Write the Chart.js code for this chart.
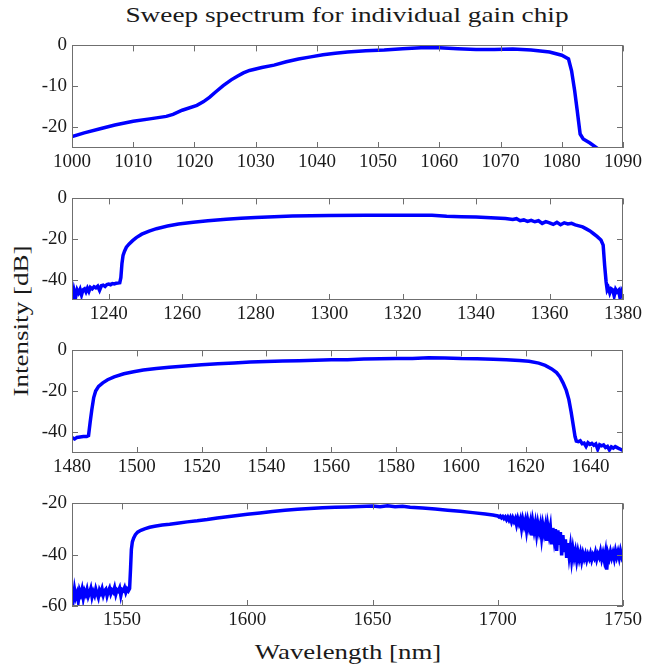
<!DOCTYPE html>
<html>
<head>
<meta charset="utf-8">
<script src="https://cdn.jsdelivr.net/npm/chart.js@4/dist/chart.umd.min.js"></script>
<style>
  body { margin: 0; background: #fff; width: 645px; height: 670px; position: relative; overflow: hidden; }
  canvas { position: absolute; left: 0; }
  .lbl { position: absolute; font-family: "Liberation Serif", serif; font-size: 22px; color: #1a1a1a; white-space: nowrap; line-height: 1; }
</style>
</head>
<body>
<div class="lbl" id="title" style="left:347px; top:15px; transform: translate(-50%,-50%) scaleX(1.24);">Sweep spectrum for individual gain chip</div>
<div class="lbl" id="ylabel" style="left:21px; top:321px; transform: translate(-50%,-50%) rotate(-90deg) scaleX(1.23);">Intensity [dB]</div>
<div class="lbl" id="xlabel" style="left:348px; top:652px; transform: translate(-50%,-50%) scaleX(1.22);">Wavelength [nm]</div>

<canvas id="chip1" width="645" height="149" style="top:29px"></canvas>
<canvas id="chip2" width="645" height="148" style="top:182px"></canvas>
<canvas id="chip3" width="645" height="149" style="top:334px"></canvas>
<canvas id="chip4" width="645" height="149" style="top:487px"></canvas>

<script>
// [wavelength nm, intensity dB]
const chip1 = [
  [1000,-22.2],[1002,-21.3],[1004.6,-20.3],[1007,-19.4],[1010,-18.5],[1012.7,-17.9],[1015.4,-17.3],
  [1016.5,-16.8],[1018,-15.8],[1020.4,-14.6],[1021.5,-13.7],[1022.5,-12.6],[1023.5,-11.3],[1024.7,-9.8],
  [1026,-8.4],[1027,-7.5],[1028,-6.7],[1029,-6.1],[1031,-5.4],[1033,-4.8],[1035,-4.0],[1037,-3.3],
  [1039,-2.8],[1041,-2.3],[1043,-1.9],[1045,-1.6],[1048,-1.3],[1051,-1.1],[1054,-0.8],[1057,-0.6],
  [1060,-0.6],[1063,-0.8],[1066,-1.0],[1069,-1.0],[1072,-0.9],[1075,-1.1],[1078,-1.6],[1080,-2.4],
  [1081.1,-3.3],[1081.6,-6.2],[1082.1,-11],[1082.5,-15.6],[1083,-21.6],[1083.5,-22.8],[1084.6,-23.8],[1086,-25.3]
];

const chip2 = [
  [1230,-47],[1230.3,-50],[1230.6,-45.5],[1231,-48.5],[1231.4,-45],[1231.8,-46.5],[1232.2,-44.8],[1232.6,-47.5],
  [1233,-45],[1233.4,-44.5],[1233.8,-46],[1234.2,-44.2],[1234.6,-45.8],[1235,-43.8],[1235.5,-44.5],[1236,-43.5],
  [1236.5,-44],[1237,-43.2],[1237.5,-45.2],[1238,-43],[1238.5,-42.7],[1239,-43.3],[1239.5,-42.4],[1240,-42.2],
  [1240.5,-42.5],[1241,-41.9],[1241.5,-42.1],[1242,-41.8],[1242.5,-41.7],[1243,-41.5],[1243.3,-39],[1243.6,-32],
  [1243.9,-28],[1244.3,-26],[1244.8,-24],[1245.5,-22.5],[1246.5,-20.8],[1247.5,-19.3],[1249,-17.6],[1251,-16.1],
  [1253,-14.9],[1256,-13.6],[1259,-12.6],[1263,-11.7],[1267,-11],[1272,-10.3],[1276,-9.8],[1280,-9.4],
  [1285,-9],[1290,-8.7],[1295,-8.5],[1300,-8.4],[1310,-8.3],[1320,-8.3],[1328,-8.3],[1332,-8.8],
  [1336,-9],[1340,-9.1],[1344,-9.5],[1348,-9.9],[1350,-10.4],[1351,-10.0],[1352,-11.0],[1353,-10.6],
  [1354,-11.3],[1355,-10.8],[1356,-11.5],[1357,-11.0],[1358,-12.3],[1359,-11.4],[1360,-12.0],[1361,-12.8],
  [1362,-11.8],[1363,-13.0],[1364,-12.0],[1365,-12.6],[1366,-12.3],[1367,-13.0],[1368,-13.5],[1369,-14.0],
  [1370,-15.0],[1371,-16.0],[1372,-17.4],[1373,-18.8],[1374,-20.5],[1374.6,-23],[1375,-33],[1375.4,-41],
  [1375.7,-45],[1376,-44],[1376.4,-46.5],[1376.8,-44.5],[1377.2,-45],[1377.6,-48],[1378,-44.8],[1378.4,-46],
  [1378.8,-45.2],[1379.2,-49],[1379.6,-45.5],[1380,-47]
];

const chip3 = [
  [1480,-42.5],[1480.8,-43.2],[1481.5,-42.4],[1482.5,-42.2],[1483.5,-42.0],[1484.5,-42.0],[1485.1,-41.5],
  [1485.6,-35],[1486.1,-29],[1486.7,-23],[1487.3,-19.8],[1488.2,-17.5],[1489.5,-15.8],[1491,-14.3],[1493,-12.9],
  [1496,-11.4],[1499,-10.4],[1502,-9.6],[1506,-8.8],[1510,-8.2],[1515,-7.6],[1520,-7.0],[1525,-6.5],[1530,-6.1],
  [1535,-5.7],[1540,-5.4],[1545,-5.2],[1550,-5.0],[1555,-4.8],[1560,-4.6],[1565,-4.5],[1570,-4.2],[1575,-4.1],
  [1580,-4.0],[1585,-3.9],[1590,-3.6],[1595,-3.7],[1600,-4.0],[1605,-4.1],[1610,-4.3],[1614,-4.6],[1618,-4.9],
  [1621,-5.3],[1624,-6.2],[1626,-7.3],[1628,-9.0],[1629.5,-10.8],[1630.5,-12.8],[1631.5,-15.8],[1632.5,-19.5],
  [1633.3,-24],[1634,-30],[1634.7,-37],[1635.2,-42],[1635.6,-44.2],[1636.2,-44.5],[1636.8,-44.0],[1637.4,-45.5],
  [1638,-45.2],[1638.6,-46.8],[1639.2,-45.0],[1639.8,-45.8],[1640.4,-45.3],[1641,-46.2],[1641.6,-45.6],[1642.2,-48.2],
  [1642.8,-46.0],[1643.4,-46.5],[1644,-46.1],[1644.6,-47.3],[1645.2,-46.8],[1645.8,-48.5],[1646.4,-47.0],[1647,-47.6],
  [1647.6,-46.9],[1648.2,-47.4],[1648.8,-47.9],[1649.4,-48.3],[1650,-48.8]
];

const chip4 = [
  [1530,-54],[1530.5,-57.5],[1531,-53.5],[1531.5,-56.5],[1532,-55],[1532.5,-58],[1533,-54],[1533.5,-55.5],
  [1534,-53.5],[1534.5,-56.8],[1535,-54.2],[1535.5,-55.5],[1536,-53.6],[1536.5,-56.2],[1537,-54.8],[1537.5,-53.2],
  [1538,-56.4],[1538.5,-54.5],[1539,-55.8],[1539.5,-53.4],[1540,-55.1],[1540.5,-56.6],[1541,-53.8],[1541.5,-54.9],
  [1542,-53.3],[1542.5,-55.7],[1543,-54.1],[1543.5,-53.5],[1544,-56],[1544.5,-54.3],[1545,-53.1],[1545.5,-55.2],
  [1546,-53.9],[1546.5,-54.6],[1547,-52.9],[1547.5,-55.4],[1548,-53.7],[1548.5,-54.2],[1549,-53],[1549.5,-55.9],
  [1550,-53.6],[1550.5,-54],[1551,-52.8],[1551.5,-54.7],[1552,-53.4],[1552.5,-54.1],[1553,-53.2],
  [1553.4,-45],[1553.7,-38],[1554.1,-35],[1554.6,-33.6],[1555.3,-32.2],[1556.2,-31.2],[1557.5,-30.5],[1559,-29.9],
  [1561,-29.3],[1563,-28.9],[1566,-28.4],[1569,-28.1],[1572,-27.7],[1576,-27.2],[1580,-26.8],[1584,-26.3],
  [1588,-25.7],[1592,-25.2],[1596,-24.7],[1600,-24.2],[1605,-23.7],[1610,-23.2],[1615,-22.7],[1620,-22.3],[1625,-22.0],
  [1630,-21.7],[1635,-21.5],[1640,-21.4],[1645,-21.2],[1650,-21.0],[1653,-21.3],[1656,-20.9],[1659,-21.3],
  [1662,-21.1],[1665,-21.5],[1670,-21.8],[1675,-22.2],[1680,-22.7],[1685,-23.1],[1690,-23.6],[1695,-24.1],
  [1698,-24.5],[1700,-24.9],
  [1700.5,-25.3],[1701,-24.9],[1701.5,-25.6],[1702,-25.1],[1702.5,-25.9],[1703,-25.3],[1703.5,-26.3],[1704,-25.4],
  [1704.5,-26.5],[1705,-25.5],[1705.5,-27.2],[1706,-25.7],[1706.5,-27.0],[1707,-25.9],[1707.5,-28.2],[1708,-26.0],
  [1708.5,-27.8],[1709,-26.2],[1709.5,-29.6],[1710,-26.4],[1710.5,-28.6],[1711,-26.6],[1711.5,-30.5],[1712,-26.9],
  [1712.5,-29.4],[1713,-27.2],[1713.5,-32.5],[1714,-27.5],[1714.5,-30.6],[1715,-27.8],[1715.5,-31.9],[1716,-28.0],
  [1716.5,-30.8],[1717,-28.3],[1717.5,-33.0],[1718,-28.6],[1718.5,-31.5],[1719,-28.8],[1719.5,-34.6],[1720,-29.0],
  [1720.5,-32.2],[1721,-29.3],[1721.5,-36.0],[1722,-29.6],[1722.5,-33.8],[1723,-30.0],[1723.5,-38.5],[1724,-30.5],
  [1724.5,-36.2],[1725,-31.2],[1725.5,-40.3],[1726,-32.4],[1726.5,-39.0],[1727,-34.0],[1727.5,-41.2],[1728,-35.5],
  [1728.5,-40.4],[1729,-36.8],[1729.5,-41.8],[1730,-37.8],[1730.5,-41.0],[1731,-38.6],[1731.5,-42.2],[1732,-39.0],
  [1732.5,-41.6],[1733,-39.3],[1733.5,-42.3],[1734,-39.6],[1734.5,-41.5],[1735,-39.8],[1735.5,-42.0],[1736,-40.0],
  [1736.5,-41.4],[1737,-39.6],[1737.5,-41.9],[1738,-40.1],[1738.5,-41.2],[1739,-39.2],[1739.5,-41.7],[1740,-39.8],
  [1740.5,-41.0],[1741,-38.8],[1741.5,-41.6],[1742,-39.5],[1742.5,-42.0],[1743,-39.2],[1743.5,-45.8],[1744,-39.6],
  [1744.5,-41.3],[1745,-38.9],[1745.5,-41.1],[1746,-39.3],[1746.5,-41.5],[1747,-38.6],[1747.5,-40.8],[1748,-38.9],
  [1748.5,-41.2],[1749,-38.5],[1749.5,-40.6],[1750,-39.0]
];

// axis ranges: [xmin, xmax, xstep], [ymin, ymax, ystep]
const xRanges = [[1000, 1090, 10], [1230, 1380, 20], [1480, 1650, 20], [1530, 1750, 50]];
const yRanges = [[-25, 0, 10], [-50, 0, 20], [-50, 0, 20], [-60, -20, 20]];

const panelConfigs = [
  { id: "chip1", data: chip1 },
  { id: "chip2", data: chip2 },
  { id: "chip3", data: chip3 },
  { id: "chip4", data: chip4 }
];

const tickFont = { family: "'Liberation Serif', 'Times New Roman', serif", size: 19 };
const textColor = "#1a1a1a";
const frameColor = "#6f6f6f";

// box round the plot with short inward ticks on every side
const framePlugin = {
  id: "frame",
  afterDraw(chart) {
    const { ctx, chartArea: a, scales: { x, y } } = chart;
    const len = 6;
    ctx.save();
    ctx.strokeStyle = frameColor;
    ctx.lineWidth = 1;
    ctx.strokeRect(Math.round(a.left) + 0.5, Math.round(a.top) + 0.5,
                   Math.round(a.right - a.left) - 1, Math.round(a.bottom - a.top) - 1);
    ctx.beginPath();
    x.ticks.forEach(t => {
      const px = Math.round(x.getPixelForValue(t.value)) + 0.5;
      ctx.moveTo(px, a.top); ctx.lineTo(px, a.top + len);
      ctx.moveTo(px, a.bottom); ctx.lineTo(px, a.bottom - len);
    });
    y.ticks.forEach(t => {
      const py = Math.round(y.getPixelForValue(t.value)) + 0.5;
      ctx.moveTo(a.left, py); ctx.lineTo(a.left + len, py);
      ctx.moveTo(a.right, py); ctx.lineTo(a.right - len, py);
    });
    ctx.stroke();
    ctx.restore();
  }
};

function drawPanels() {
  panelConfigs.forEach((config, i) => {
    const [xmin, xmax, xstep] = xRanges[i];
    const [ymin, ymax, ystep] = yRanges[i];
    new Chart(document.getElementById(config.id).getContext("2d"), {
      type: "scatter",
      data: {
        datasets: [{
          data: config.data.map(p => ({ x: p[0], y: p[1] })),
          showLine: true,
          borderColor: "#0000ff",
          borderWidth: 3.5,
          pointRadius: 0,
          tension: 0
        }]
      },
      options: {
        responsive: false,
        animation: false,
        devicePixelRatio: 1,
        layout: { padding: { top: 10, right: 22, left: 0, bottom: 0 } },
        plugins: { legend: { display: false }, tooltip: { enabled: false } },
        scales: {
          x: {
            type: "linear", min: xmin, max: xmax,
            grid: { display: false, drawTicks: false },
            border: { display: false },
            ticks: { stepSize: xstep, includeBounds: false, autoSkip: false, maxRotation: 0,
                     font: tickFont, color: textColor, padding: 3, callback: v => String(v) },
            afterFit(s) { s.height = 30; }
          },
          y: {
            type: "linear", min: ymin, max: ymax,
            grid: { display: false, drawTicks: false },
            border: { display: false },
            ticks: { stepSize: ystep, includeBounds: false, font: tickFont, color: textColor,
                     padding: 5, callback: v => String(v) },
            afterFit(s) { s.width = 72; }
          }
        }
      },
      plugins: [framePlugin]
    });
  });
}

document.fonts.load('19px "Liberation Serif"').then(drawPanels, drawPanels);
</script>
</body>
</html>
